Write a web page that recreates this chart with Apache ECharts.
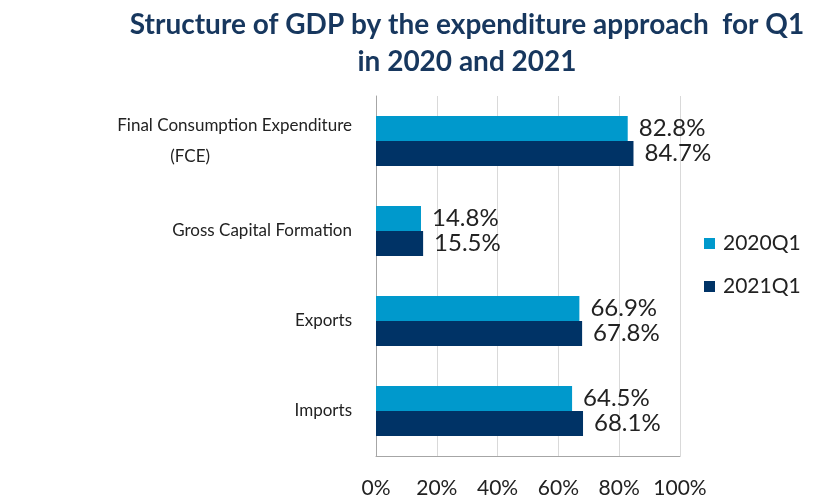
<!DOCTYPE html>
<html><head><meta charset="utf-8">
<script src="https://cdn.jsdelivr.net/npm/echarts@6/dist/echarts.min.js"></script>
<style>html,body{margin:0;padding:0;background:#fff}#c{width:823px;height:500px}</style>
</head><body><div id="c"></div>
<script>
const categories = ["Final Consumption Expenditure\n(FCE)", "Gross Capital Formation", "Exports", "Imports"];
const values2020 = [82.8, 14.8, 66.9, 64.5];
const values2021 = [84.7, 15.5, 67.8, 68.1];
const seriesNames = ["2020Q1", "2021Q1"];
const xTicks = [0, 20, 40, 60, 80, 100];

const FONT = "Lato";
const chart = echarts.init(document.getElementById('c'), null, {renderer: 'canvas'});
const lbl = {show: true, position: 'right', distance: 11, color: '#222', fontSize: 24, fontFamily: FONT,
  formatter: p => p.value.toFixed(1) + '%'};
chart.setOption({
  animation: false,
  title: {
    text: 'Structure of GDP by the expenditure approach  for Q1\nin 2020 and 2021',
    left: 462, top: 1, textAlign: 'center',
    textStyle: {fontFamily: FONT, fontWeight: 'bold', fontSize: 28, color: '#17375e', lineHeight: 37}
  },
  legend: {
    orient: 'vertical', left: 699, top: 228, itemGap: 22, itemWidth: 11, itemHeight: 11,
    icon: 'rect',
    textStyle: {fontFamily: FONT, fontSize: 21, color: '#222', padding: [0, 0, 0, 3]},
    data: seriesNames
  },
  grid: {left: 376, top: 96, width: 304, height: 360, containLabel: false},
  xAxis: {
    type: 'value', min: 0, max: 100, interval: 20,
    axisLabel: {formatter: v => xTicks.includes(v) ? v + '%' : '', fontFamily: FONT, fontSize: 21, color: '#222', margin: 22},
    splitLine: {show: true, lineStyle: {color: '#d9d9d9', width: 1}},
    axisLine: {show: true, lineStyle: {color: '#a6a6a6'}},
    axisTick: {show: false}
  },
  yAxis: {
    type: 'category', data: categories, inverse: true,
    axisLine: {show: true, lineStyle: {color: '#a6a6a6'}},
    axisTick: {show: false},
    axisLabel: {
      margin: 24, fontFamily: FONT, fontSize: 17, color: '#222', lineHeight: 31,
      formatter: v => v.includes('\n') ? v.split('\n')[0] + '\n{p|' + v.split('\n')[1] + '}' : v,
      rich: {p: {fontFamily: FONT, fontSize: 17, color: '#222', padding: [0, 142, 0, 0]}}
    }
  },
  series: [
    {name: seriesNames[0], type: 'bar', data: values2020, barWidth: 25, barGap: '0%',
     itemStyle: {color: '#0099cc'}, label: lbl},
    {name: seriesNames[1], type: 'bar', data: values2021, barWidth: 25, barGap: '0%',
     itemStyle: {color: '#003366'}, label: lbl}
  ]
});
</script></body></html>
